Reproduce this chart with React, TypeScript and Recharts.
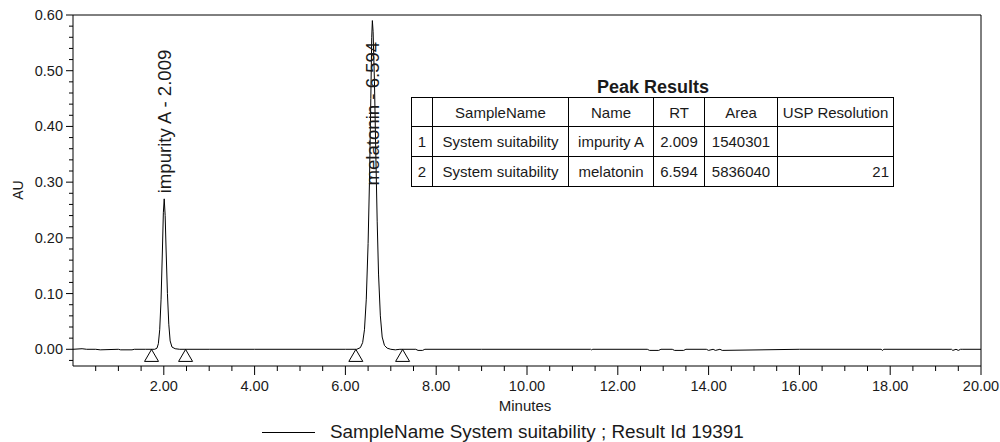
import { ComposedChart, Line, Scatter, XAxis, YAxis, ReferenceLine, ReferenceDot } from "recharts";

// retention time (min) and absorbance (AU) of the trace
const traceTime = [
  0.0, 0.2, 0.3, 0.5, 0.6, 1.0, 1.05, 1.3, 1.35, 1.6, 1.8, 1.85, 1.88, 1.91, 1.94, 1.97, 1.99, 2.009,
  2.03, 2.05, 2.08, 2.11, 2.14, 2.18, 2.25, 2.35, 3.0, 4.0, 5.0, 6.0, 6.25, 6.33, 6.38, 6.42, 6.46,
  6.5, 6.53, 6.56, 6.58, 6.594, 6.61, 6.64, 6.67, 6.7, 6.73, 6.77, 6.81, 6.86, 6.92, 7.0, 7.1, 7.2,
  7.55, 7.6, 7.7, 7.75, 9.0, 11.4, 11.42, 11.45, 12.65, 12.7, 12.9, 12.95, 13.2, 13.25, 13.45, 13.5,
  13.95, 14.0, 14.1, 14.15, 14.25, 14.3, 16.0, 17.8, 17.83, 17.86, 19.35, 19.38, 19.45, 19.5, 19.55,
  19.6, 20.0,
];
const traceAU = [
  0.0, 0.001, 0.0, 0.0, -0.001, 0.0, -0.001, -0.001, 0.0, 0.0, 0.0, 0.002, 0.01, 0.035, 0.09, 0.18,
  0.245, 0.27, 0.24, 0.18, 0.1, 0.045, 0.015, 0.004, 0.001, 0.0, 0.0, 0.0, 0.0, 0.0, 0.0, 0.003, 0.012,
  0.035, 0.09, 0.19, 0.3, 0.45, 0.56, 0.59, 0.57, 0.48, 0.35, 0.23, 0.135, 0.06, 0.022, 0.007, 0.002,
  0.0, -0.001, 0.0, 0.0, -0.002, -0.002, 0.0, 0.0, 0.0, -0.001, 0.0, 0.0, -0.002, -0.002, 0.0, 0.0,
  -0.002, -0.002, 0.0, 0.0, -0.002, 0.0, -0.002, 0.0, -0.002, 0.0, 0.0, -0.002, 0.0, 0.0, -0.002,
  0.0, -0.002, 0.0, 0.0, 0.0,
];

// peak start / end markers
const markerTime = [1.73, 2.48, 6.23, 7.26];
const markerAU = [-0.011, -0.011, -0.011, -0.011];

const peakNames = ["impurity A", "melatonin"];
const peakRT = [2.009, 6.594];
const peakLabelAU = [0.28, 0.294];
const peakArea = [1540301, 5836040];
const peakResolution = ["", "21"];
const sampleName = "System suitability";

const xTicks = [
  0.5, 1, 1.5, 2, 2.5, 3, 3.5, 4, 4.5, 5, 5.5, 6, 6.5, 7, 7.5, 8, 8.5, 9, 9.5, 10, 10.5, 11, 11.5, 12,
  12.5, 13, 13.5, 14, 14.5, 15, 15.5, 16, 16.5, 17, 17.5, 18, 18.5, 19, 19.5, 20,
];
const yTicks = [
  -0.02, 0, 0.02, 0.04, 0.06, 0.08, 0.1, 0.12, 0.14, 0.16, 0.18, 0.2, 0.22, 0.24, 0.26, 0.28, 0.3,
  0.32, 0.34, 0.36, 0.38, 0.4, 0.42, 0.44, 0.46, 0.48, 0.5, 0.52, 0.54, 0.56, 0.58, 0.6,
];

const trace = traceTime.map((t, i) => ({ t, v: traceAU[i] }));
const markers = markerTime.map((t, i) => ({ t, v: markerAU[i] }));

const FONT = '"Liberation Sans", Arial, sans-serif';
const TEXT = "#1a1a1a";

const XTick = (props: any) => {
  const { x, y, payload } = props;
  const v = payload.value;
  const major = Math.abs(v / 2 - Math.round(v / 2)) < 1e-6;
  return (
    <g>
      <line x1={x} x2={x} y1={y} y2={y + (major ? 9 : 5)} stroke="#000" />
      {major && (
        <text x={x} y={y + 25} textAnchor="middle" fontSize={14.5} fontFamily={FONT} fill={TEXT}>
          {v.toFixed(2)}
        </text>
      )}
    </g>
  );
};

const YTick = (props: any) => {
  const { x, y, payload } = props;
  const v = payload.value;
  const major = Math.abs(v * 10 - Math.round(v * 10)) < 1e-6;
  return (
    <g>
      <line x1={x - (major ? 7 : 4)} x2={x} y1={y} y2={y} stroke="#000" />
      {major && (
        <text x={x - 10} y={y + 5} textAnchor="end" fontSize={14.5} fontFamily={FONT} fill={TEXT}>
          {v.toFixed(2)}
        </text>
      )}
    </g>
  );
};

const Triangle = (props: any) => {
  const { cx, cy } = props;
  return (
    <polygon
      points={`${cx},${cy - 6} ${cx - 7},${cy + 6} ${cx + 7},${cy + 6}`}
      fill="none"
      stroke="#000"
      strokeWidth={1}
    />
  );
};

const peakLabel = (text: string) => (props: any) => {
  const { cx, cy } = props;
  return (
    <text
      transform={`translate(${cx}, ${cy}) rotate(-90)`}
      textAnchor="start"
      dominantBaseline="central"
      fontSize={18.6}
      fontFamily={FONT}
      fill={TEXT}
    >
      {text}
    </text>
  );
};

const colWidths = [21, 136, 85, 51, 73, 116];
const headers = ["", "SampleName", "Name", "RT", "Area", "USP Resolution"];

const cell: React.CSSProperties = {
  border: "1px solid #000",
  padding: "0 4px",
  textAlign: "center",
  whiteSpace: "nowrap",
};

export default function App() {
  return (
    <div style={{ position: "absolute", left: 0, top: 0, width: 1000, height: 442, background: "#fff", fontFamily: FONT, color: TEXT }}>
      <ComposedChart width={1000} height={442} margin={{ top: 15, right: 19, left: 0, bottom: 0 }}>
        <XAxis
          type="number"
          dataKey="t"
          domain={[0, 20]}
          ticks={xTicks}
          interval={0}
          tick={<XTick />}
          tickSize={0}
          tickMargin={0}
          tickLine={false}
          axisLine={{ stroke: "#000" }}
          height={76}
          allowDataOverflow
        />
        <YAxis
          type="number"
          domain={[-0.03, 0.6]}
          ticks={yTicks}
          interval={0}
          tick={<YTick />}
          tickSize={0}
          tickMargin={0}
          tickLine={false}
          axisLine={{ stroke: "#000" }}
          width={73}
          allowDataOverflow
        />
        <ReferenceLine y={0.6} stroke="#000" />
        <ReferenceLine x={20} stroke="#000" />
        <Line
          data={trace}
          dataKey="v"
          type="linear"
          stroke="#000"
          strokeWidth={1}
          dot={false}
          activeDot={false}
          isAnimationActive={false}
        />
        <Scatter data={markers} dataKey="v" shape={<Triangle />} isAnimationActive={false} />
        {peakNames.map((n, i) => (
          <ReferenceDot
            key={n}
            x={peakRT[i]}
            y={peakLabelAU[i]}
            r={0}
            shape={peakLabel(`${n} - ${peakRT[i].toFixed(3)}`)}
          />
        ))}
      </ComposedChart>

      <div style={{ position: "absolute", left: 18, top: 190, transform: "translate(-50%,-50%) rotate(-90deg)", fontSize: 14 }}>
        AU
      </div>
      <div style={{ position: "absolute", left: 525, top: 405, transform: "translate(-50%,-50%)", fontSize: 15 }}>Minutes</div>

      <div style={{ position: "absolute", left: 262, top: 432, width: 53, borderTop: "1px solid #000" }} />
      <div style={{ position: "absolute", left: 330, top: 432, transform: "translateY(-50%)", fontSize: 18.9, whiteSpace: "nowrap" }}>
        SampleName {sampleName} ; Result Id 19391
      </div>

      <div style={{ position: "absolute", left: 653, top: 87, transform: "translate(-50%,-50%)", fontSize: 18, fontWeight: "bold", whiteSpace: "nowrap" }}>
        Peak Results
      </div>
      <table
        style={{
          position: "absolute",
          left: 411,
          top: 97,
          borderCollapse: "collapse",
          fontSize: 15,
          tableLayout: "fixed",
          width: 482,
        }}
      >
        <colgroup>
          {colWidths.map((w, i) => (
            <col key={i} style={{ width: w }} />
          ))}
        </colgroup>
        <tbody>
          <tr style={{ height: 29 }}>
            {headers.map((h, i) => (
              <td key={i} style={cell}>
                {h}
              </td>
            ))}
          </tr>
          {peakNames.map((n, i) => (
            <tr key={n} style={{ height: 30 }}>
              <td style={cell}>{i + 1}</td>
              <td style={cell}>{sampleName}</td>
              <td style={cell}>{n}</td>
              <td style={cell}>{peakRT[i].toFixed(3)}</td>
              <td style={cell}>{peakArea[i]}</td>
              <td style={{ ...cell, textAlign: "right" }}>{peakResolution[i]}</td>
            </tr>
          ))}
        </tbody>
      </table>
    </div>
  );
}
